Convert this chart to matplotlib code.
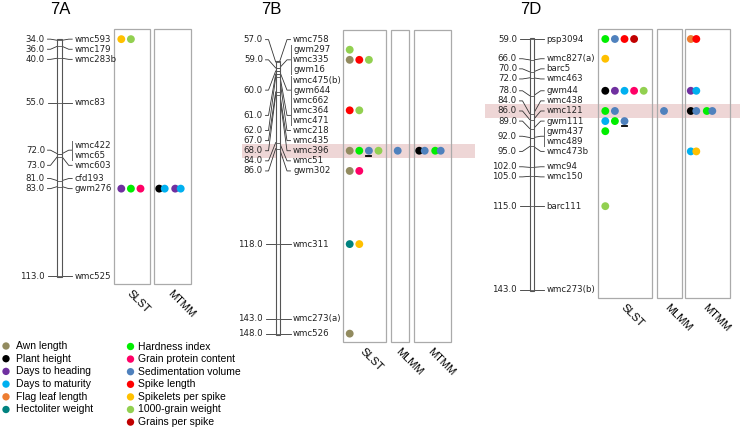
import matplotlib
matplotlib.use('Agg')
import matplotlib.pyplot as plt
from matplotlib.patches import Rectangle

# características e cores
traits = ['Awn length', 'Plant height', 'Days to heading', 'Days to maturity',
          'Flag leaf length', 'Hectoliter weight', 'Hardness index',
          'Grain protein content', 'Sedimentation volume', 'Spike length',
          'Spikelets per spike', '1000-grain weight', 'Grains per spike']
trait_colors = ['#928b5f', '#000000', '#7030a0', '#00b0f0', '#ed7d31', '#00827f',
                '#00ee00', '#ff0066', '#4f81bd', '#ff0000', '#ffc000', '#92d050',
                '#c00000']

# cromossomo 7A
markers_7A = ['wmc593', 'wmc179', 'wmc283b', 'wmc83', 'wmc422', 'wmc65', 'wmc603',
              'cfd193', 'gwm276', 'wmc525']
cm_7A = [34, 36, 40, 55, 72, 72, 73, 81, 83, 113]
qtl_7A = [
    ('wmc593', 'SLST', ['Spikelets per spike', '1000-grain weight']),
    ('gwm276', 'SLST', ['Days to heading', 'Hardness index', 'Grain protein content']),
    ('gwm276', 'MTMM', [('Plant height', 'Days to maturity'),
                        ('Days to heading', 'Days to maturity')]),
]

# cromossomo 7B
markers_7B = ['wmc758', 'gwm297', 'wmc335', 'gwm16', 'wmc475(b)', 'gwm644', 'wmc662',
              'wmc364', 'wmc471', 'wmc218', 'wmc435', 'wmc396', 'wmc51', 'gwm302',
              'wmc311', 'wmc273(a)', 'wmc526']
cm_7B = [57, 59, 59, 59, 60, 60, 60, 61, 61, 62, 67, 68, 84, 86, 118, 143, 148]
qtl_7B = [
    ('gwm297', 'SLST', ['1000-grain weight']),
    ('wmc335', 'SLST', ['Awn length', 'Spike length', '1000-grain weight']),
    ('wmc364', 'SLST', ['Spike length', '1000-grain weight']),
    ('wmc396', 'SLST', ['Awn length', 'Hardness index', 'Sedimentation volume',
                        '1000-grain weight']),
    ('wmc396', 'MLMM', ['Sedimentation volume']),
    ('wmc396', 'MTMM', [('Plant height', 'Sedimentation volume'),
                        ('Hardness index', 'Sedimentation volume')]),
    ('gwm302', 'SLST', ['Awn length', 'Grain protein content']),
    ('wmc311', 'SLST', ['Hectoliter weight', 'Spikelets per spike']),
    ('wmc526', 'SLST', ['Awn length']),
]

# cromossomo 7D
markers_7D = ['psp3094', 'wmc827(a)', 'barc5', 'wmc463', 'gwm44', 'wmc438', 'wmc121',
              'gwm111', 'gwm437', 'wmc489', 'wmc473b', 'wmc94', 'wmc150', 'barc111',
              'wmc273(b)']
cm_7D = [59, 66, 70, 72, 78, 84, 86, 89, 92, 92, 95, 102, 105, 115, 143]
qtl_7D = [
    ('psp3094', 'SLST', ['Hardness index', 'Sedimentation volume', 'Spike length',
                         'Grains per spike']),
    ('psp3094', 'MTMM', [('Flag leaf length', 'Spike length')]),
    ('wmc827(a)', 'SLST', ['Spikelets per spike']),
    ('gwm44', 'SLST', ['Plant height', 'Days to heading', 'Days to maturity',
                       'Grain protein content', '1000-grain weight']),
    ('gwm44', 'MTMM', [('Days to heading', 'Days to maturity')]),
    ('wmc121', 'SLST', ['Hardness index', 'Sedimentation volume']),
    ('wmc121', 'MLMM', ['Sedimentation volume']),
    ('wmc121', 'MTMM', [('Plant height', 'Sedimentation volume'),
                        ('Hardness index', 'Sedimentation volume')]),
    ('gwm111', 'SLST', ['Days to maturity', 'Hardness index', 'Sedimentation volume']),
    ('gwm437', 'SLST', ['Hardness index']),
    ('wmc473b', 'MTMM', [('Days to maturity', 'Spikelets per spike')]),
    ('barc111', 'SLST', ['1000-grain weight']),
]

# pontos sublinhados e marcadores destacados
underlined = [('7B', 'wmc396', 'Sedimentation volume'), ('7D', 'gwm111', 'Sedimentation volume')]
highlight = {'7B': 'wmc396', '7D': 'wmc121'}

# layout em pixels
W, H = 740, 430
K = 2.985   # pixels por cM
GAP = 10.1  # distancia entre rotulos
layouts = {
    '7A': dict(title_x=60, y0=40.3, cx=57.3, cw=4.7, left_x=45, right_x=74.7,
               panels=[('SLST', 114.3, 35.4), ('MTMM', 153.7, 37.6)], band=None),
    '7B': dict(title_x=271, y0=62, cx=275.7, cw=3.8, left_x=263, right_x=293,
               panels=[('SLST', 342.7, 43.3), ('MLMM', 390.7, 18.6), ('MTMM', 413.7, 37.6)],
               band=(242, 475)),
    '7D': dict(title_x=531, y0=39, cx=529.7, cw=3.8, left_x=517, right_x=546.7,
               panels=[('SLST', 598.3, 54), ('MLMM', 657, 24.7), ('MTMM', 685.3, 44.4)],
               band=(485, 740)),
}

color_of = dict(zip(traits, trait_colors))
LABEL_FONT = 'DejaVu Sans'
SANS = 'Liberation Sans'


def spread(ys, gap):
    # agrupa rotulos que se sobrepoem e centraliza cada grupo
    groups = [[y] for y in ys]
    merged = True
    while merged:
        merged = False
        for i in range(len(groups) - 1):
            a, b = groups[i], groups[i + 1]
            end_a = (a[0] + a[-1]) / 2 + (len(a) - 1) * gap / 2
            start_b = (b[0] + b[-1]) / 2 - (len(b) - 1) * gap / 2
            if start_b - end_a < gap - 1e-9:
                groups[i] = a + b
                del groups[i + 1]
                merged = True
                break
    out = []
    for g in groups:
        c = (g[0] + g[-1]) / 2
        out += [c + (j - (len(g) - 1) / 2) * gap for j in range(len(g))]
    return out


def draw_chrom(fig, name, markers, cms, qtls):
    lay = layouts[name]
    ax = fig.add_axes([0, 0, 1, 1])
    ax.set_axis_off()
    ax.patch.set_alpha(0)
    top = cms[0] - lay['y0'] / K
    ax.set_xlim(0, W)
    ax.set_ylim(top + H / K, top)
    g = GAP / K
    ly = spread(cms, g)

    ax.text(lay['title_x'], top + 9.5 / K, name, ha='center', va='center',
            fontsize=12, family=SANS)

    # faixa destacada
    if lay['band'] is not None:
        y = ly[markers.index(highlight[name])]
        x0, x1 = lay['band']
        ax.add_patch(Rectangle((x0, y - 7 / K), x1 - x0, 14 / K, fc='#eed6d6',
                               ec='none', zorder=0))

    # cromossomo
    cx, cw = lay['cx'], lay['cw']
    ax.add_patch(Rectangle((cx, cms[0] - 1 / K), cw, cms[-1] - cms[0] + 2 / K,
                           fc='white', ec='#555555', lw=0.8, zorder=3))
    ax.hlines(cms, cx, cx + cw, color='#555555', lw=0.6, zorder=4)

    # rotulos da esquerda (cM) e da direita (marcadores)
    lx, rx = lay['left_x'], lay['right_x']
    uniq = sorted(set(cms))
    for c in uniq:
        idx = [i for i, v in enumerate(cms) if v == c]
        yc = sum(ly[i] for i in idx) / len(idx)
        ax.text(lx, yc, f'{c:.1f}', ha='right', va='center', fontsize=6.2,
                family=LABEL_FONT, color='#222222')
        ax.plot([lx + 2.5, lx + 5.5, cx], [yc, yc, c], color='#333333', lw=0.6, zorder=2)
        ax.plot([cx + cw, rx - 6, rx - 2.5], [c, yc, yc], color='#333333', lw=0.6, zorder=2)
        if len(idx) > 1:
            ax.plot([rx - 2.5, rx - 2.5], [ly[idx[0]] - 4.5 / K, ly[idx[-1]] + 4.5 / K],
                    color='#666666', lw=0.7)
    for m, y in zip(markers, ly):
        ax.text(rx, y, m, ha='left', va='center', fontsize=6.2, family=LABEL_FONT,
                color='#222222')

    # paineis
    ptop = ly[0] - 10 / K
    pbot = cms[-1] + 8 / K
    pleft = {}
    for pname, pl, pw in lay['panels']:
        pleft[pname] = pl
        ax.add_patch(Rectangle((pl, ptop), pw, pbot - ptop, fc='none', ec='#aaaaaa',
                               lw=0.9, zorder=1))
        ax.text(pl + pw / 2 - 3, pbot + 8 / K, pname, rotation=-45, ha='left',
                va='center', rotation_mode='anchor', fontsize=8, family=SANS)

    # QTLs
    for m, method, dots in qtls:
        y = ly[markers.index(m)]
        pl = pleft[method]
        for j, grp in enumerate(dots):
            if isinstance(grp, str):
                grp = (grp,)
            if method == 'MTMM':
                x = pl + 5.5 + j * 16
            else:
                x = pl + 7 + j * 9.6
            for k, t in enumerate(grp):
                ax.scatter(x + k * 5.5, y, s=32, color=color_of[t], edgecolors='none',
                           zorder=5 + k)
                if (name, m, t) in underlined and method == 'SLST':
                    ax.plot([x - 2.5, x + 2.5], [y + 4.8 / K] * 2, color='black',
                            lw=1.3, zorder=8)
    return ax


fig = plt.figure(figsize=(7.4, 4.3), dpi=100)
draw_chrom(fig, '7A', markers_7A, cm_7A, qtl_7A)
draw_chrom(fig, '7B', markers_7B, cm_7B, qtl_7B)
draw_chrom(fig, '7D', markers_7D, cm_7D, qtl_7D)

# legenda desenhada a mao (duas colunas)
leg = fig.add_axes([0, 0, 1, 1])
leg.set_axis_off()
leg.patch.set_alpha(0)
leg.set_xlim(0, W)
leg.set_ylim(H, 0)
for i, t in enumerate(traits):
    if i < 6:
        xd, xt, y = 6, 16, 346 + i * 12.7
    else:
        xd, xt, y = 130.5, 138, 346.5 + (i - 6) * 12.6
    leg.scatter(xd, y, s=28, color=trait_colors[i], edgecolors='none')
    leg.text(xt, y, t, ha='left', va='center', fontsize=7.5, family=SANS)

plt.savefig('out.png', dpi=100)
